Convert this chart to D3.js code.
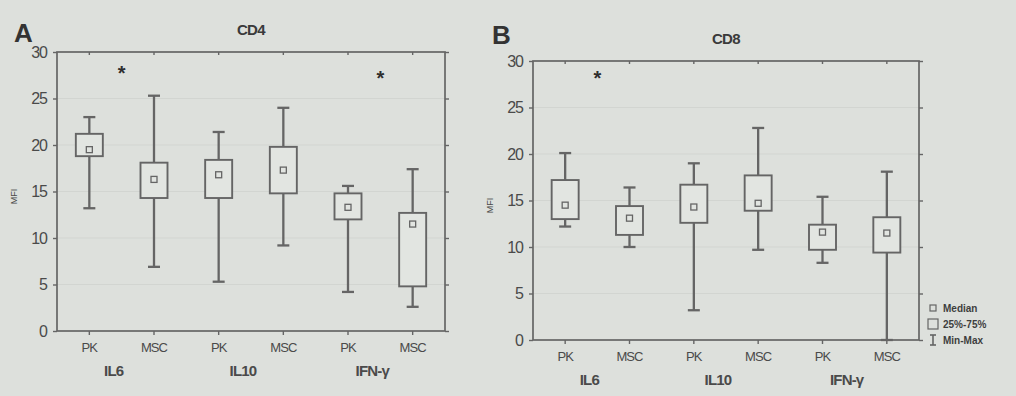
<!DOCTYPE html>
<html>
<head>
<meta charset="utf-8">
<script src="https://cdn.jsdelivr.net/npm/d3@7"></script>
<style>
  body { margin: 0; background: #dde0dc; }
  svg { display: block; font-family: "Liberation Sans", Arial, sans-serif; }
</style>
</head>
<body>
<svg id="chart" width="1016" height="396"></svg>
<script>
const groups = ["IL6", "IL10", "IFN-γ"];
const cells = ["PK", "MSC"];
const yTicks = [0, 5, 10, 15, 20, 25, 30];

// CD4 panel, order: PK IL6, MSC IL6, PK IL10, MSC IL10, PK IFN, MSC IFN
const cd4Min = [13.2, 6.9, 5.3, 9.2, 4.2, 2.6];
const cd4Q1 = [18.8, 14.3, 14.3, 14.8, 12.0, 4.8];
const cd4Median = [19.5, 16.3, 16.8, 17.3, 13.3, 11.5];
const cd4Q3 = [21.2, 18.1, 18.4, 19.8, 14.8, 12.7];
const cd4Max = [23.0, 25.3, 21.4, 24.0, 15.6, 17.4];
const cd4Stars = [27.8, null, 27.3];

// CD8 panel
const cd8Min = [12.2, 10.0, 3.2, 9.7, 8.3, 0.0];
const cd8Q1 = [13.0, 11.3, 12.6, 13.9, 9.7, 9.4];
const cd8Median = [14.5, 13.1, 14.3, 14.7, 11.6, 11.5];
const cd8Q3 = [17.2, 14.4, 16.7, 17.7, 12.4, 13.2];
const cd8Max = [20.1, 16.4, 19.0, 22.8, 15.4, 18.1];
const cd8Stars = [28.3, null, null];

const legendItems = ["Median", "25%-75%", "Min-Max"];

const ink = "#656565";
const txt = "#4a4a4a";
const svg = d3.select("#chart");

const keys = [];
groups.forEach(g => cells.forEach(c => keys.push(c + "|" + g)));

function drawPanel(p) {
  const g = svg.append("g");
  const x = d3.scaleBand().domain(keys).range([p.left, p.right]).padding(0);
  const y = d3.scaleLinear().domain([0, 30]).range([p.bottom, p.top]);
  const cx = k => x(k) + x.bandwidth() / 2;

  // faint grid
  g.selectAll("line.grid").data(yTicks.slice(1, -1)).enter().append("line")
    .attr("x1", p.left).attr("x2", p.right)
    .attr("y1", d => y(d)).attr("y2", d => y(d))
    .attr("stroke", "#d2d5d1").attr("stroke-width", 1);

  // frame
  g.append("rect")
    .attr("x", p.left).attr("y", p.top)
    .attr("width", p.right - p.left).attr("height", p.bottom - p.top)
    .attr("fill", "none").attr("stroke", ink).attr("stroke-width", 1.7);

  // left axis
  const yAxis = g.append("g").attr("transform", `translate(${p.left},0)`)
    .call(d3.axisLeft(y).tickValues(yTicks).tickSize(4).tickPadding(6));
  yAxis.select(".domain").remove();
  yAxis.selectAll("line").attr("stroke", ink).attr("stroke-width", 1.4);
  yAxis.selectAll("text").attr("fill", txt).style("font-size", "16px")
    .attr("letter-spacing", "-1");

  // right ticks
  const yR = g.append("g").attr("transform", `translate(${p.right},0)`)
    .call(d3.axisRight(y).tickValues(yTicks).tickSize(4).tickFormat(""));
  yR.select(".domain").remove();
  yR.selectAll("line").attr("stroke", ink).attr("stroke-width", 1.4);

  // top ticks
  const xT = g.append("g").attr("transform", `translate(0,${p.top})`)
    .call(d3.axisTop(x).tickSize(3).tickFormat(""));
  xT.select(".domain").remove();
  xT.selectAll("line").attr("stroke", ink).attr("stroke-width", 1.4)
    .attr("transform", "translate(0,3)");

  // bottom axis with cell labels
  const xB = g.append("g").attr("transform", `translate(0,${p.bottom})`)
    .call(d3.axisBottom(x).tickSize(4).tickPadding(8).tickFormat(k => k.split("|")[0]));
  xB.select(".domain").remove();
  xB.selectAll("line").attr("stroke", ink).attr("stroke-width", 1.4);
  xB.selectAll("text").attr("fill", txt).style("font-size", "13px")
    .attr("letter-spacing", "-0.9");

  // group labels
  g.selectAll("text.grp").data(groups).enter().append("text")
    .attr("x", d => (cx("PK|" + d) + cx("MSC|" + d)) / 2 - 8)
    .attr("y", p.bottom + 45)
    .attr("text-anchor", "middle").attr("fill", txt)
    .style("font-size", "15px").style("font-weight", "bold")
    .attr("letter-spacing", "-0.8")
    .text(d => d);

  const rows = keys.map((k, i) => ({
    k, min: p.min[i], q1: p.q1[i], med: p.median[i], q3: p.q3[i], max: p.max[i]
  }));
  const bw = 27, cap = 12, ms = 6;

  const box = g.selectAll("g.box").data(rows).enter().append("g");
  box.append("line")
    .attr("x1", d => cx(d.k)).attr("x2", d => cx(d.k))
    .attr("y1", d => y(d.min)).attr("y2", d => y(d.q1))
    .attr("stroke", ink).attr("stroke-width", 2.3);
  box.append("line")
    .attr("x1", d => cx(d.k)).attr("x2", d => cx(d.k))
    .attr("y1", d => y(d.q3)).attr("y2", d => y(d.max))
    .attr("stroke", ink).attr("stroke-width", 2.3);
  ["min", "max"].forEach(f => {
    box.append("line")
      .attr("x1", d => cx(d.k) - cap / 2).attr("x2", d => cx(d.k) + cap / 2)
      .attr("y1", d => y(d[f])).attr("y2", d => y(d[f]))
      .attr("stroke", ink).attr("stroke-width", 2.3);
  });
  box.append("rect")
    .attr("x", d => cx(d.k) - bw / 2).attr("width", bw)
    .attr("y", d => y(d.q3)).attr("height", d => y(d.q1) - y(d.q3))
    .attr("fill", "#e2e5e1").attr("stroke", ink).attr("stroke-width", 1.9);
  box.append("rect")
    .attr("x", d => cx(d.k) - ms / 2).attr("width", ms)
    .attr("y", d => y(d.med) - ms / 2).attr("height", ms)
    .attr("fill", "none").attr("stroke", ink).attr("stroke-width", 1.3);

  // significance stars
  g.selectAll("text.star").data(groups.map((d, i) => ({ d, v: p.stars[i] })).filter(s => s.v != null))
    .enter().append("text")
    .attr("x", s => (cx("PK|" + s.d) + cx("MSC|" + s.d)) / 2)
    .attr("y", s => y(s.v) + 8)
    .attr("text-anchor", "middle").attr("fill", "#2e2e2e")
    .style("font-size", "20px").style("font-weight", "bold")
    .text("*");

  // titles
  g.append("text").attr("x", p.letterX).attr("y", p.letterY)
    .attr("fill", "#333").style("font-size", "26px").style("font-weight", "bold")
    .text(p.letter);
  g.append("text").attr("x", (p.left + p.right) / 2).attr("y", p.top - 17)
    .attr("text-anchor", "middle").attr("fill", "#3a3a3a")
    .style("font-size", "15px").style("font-weight", "bold")
    .attr("letter-spacing", "-0.6")
    .text(p.title);

  // y label
  g.append("text")
    .attr("transform", `translate(${p.left - 40},${(p.top + p.bottom) / 2 + 5}) rotate(-90)`)
    .attr("text-anchor", "middle").attr("fill", txt)
    .style("font-size", "9px").text("MFI");
  return { x, y };
}

drawPanel({
  left: 57, right: 445, top: 52, bottom: 331,
  min: cd4Min, q1: cd4Q1, median: cd4Median, q3: cd4Q3, max: cd4Max, stars: cd4Stars,
  letter: "A", letterX: 14, letterY: 42, title: "CD4"
});
drawPanel({
  left: 533, right: 919, top: 61, bottom: 340,
  min: cd8Min, q1: cd8Q1, median: cd8Median, q3: cd8Q3, max: cd8Max, stars: cd8Stars,
  letter: "B", letterX: 492, letterY: 44, title: "CD8"
});

// legend
const leg = svg.append("g").attr("transform", "translate(928,308)");
const li = leg.selectAll("g").data(legendItems).enter().append("g")
  .attr("transform", (d, i) => `translate(0,${i * 16})`);
li.append("text").attr("x", 15).attr("y", 4).attr("fill", "#3e3e3e")
  .style("font-size", "10px").style("font-weight", "bold").text(d => d);
li.filter((d, i) => i === 0).append("rect")
  .attr("x", 2).attr("y", -3).attr("width", 6).attr("height", 6)
  .attr("fill", "none").attr("stroke", ink).attr("stroke-width", 1.2);
li.filter((d, i) => i === 1).append("rect")
  .attr("x", 0).attr("y", -5).attr("width", 10).attr("height", 10)
  .attr("fill", "none").attr("stroke", ink).attr("stroke-width", 1.2);
const mm = li.filter((d, i) => i === 2);
mm.append("line").attr("x1", 5).attr("x2", 5).attr("y1", -5).attr("y2", 5)
  .attr("stroke", ink).attr("stroke-width", 1.6);
mm.append("line").attr("x1", 2).attr("x2", 8).attr("y1", -5).attr("y2", -5)
  .attr("stroke", ink).attr("stroke-width", 1.6);
mm.append("line").attr("x1", 2).attr("x2", 8).attr("y1", 5).attr("y2", 5)
  .attr("stroke", ink).attr("stroke-width", 1.6);
</script>
</body>
</html>
